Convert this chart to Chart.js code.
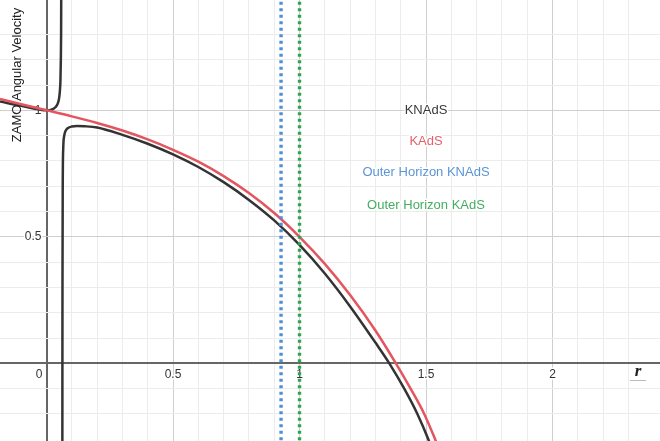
<!DOCTYPE html>
<html>
<head>
<meta charset="utf-8">
<script src="https://cdn.jsdelivr.net/npm/chart.js@4.4.1/dist/chart.umd.min.js"></script>
<style>
  html, body { margin: 0; padding: 0; background: #fff; }
  #wrap { width: 660px; height: 441px; position: relative; }
</style>
</head>
<body>
<div id="wrap"><canvas id="chart"></canvas></div>
<script>
// ZAMO angular velocity vs r, KNAdS and KAdS, with the two outer horizons.
// Values.

var knadsLeftR = [-0.184, -0.1, 0, 0.02, 0.035, 0.045, 0.05, 0.053, 0.055, 0.0565, 0.0575, 0.058];
var knadsLeftW = [1.035, 1.018, 1.0, 1.003, 1.012, 1.028, 1.05, 1.08, 1.12, 1.2, 1.3, 1.44];

var knadsRightR = [0.0625, 0.063, 0.064, 0.066, 0.07, 0.075, 0.085, 0.1, 0.12, 0.15, 0.2, 0.3, 0.4, 0.5,
  0.6, 0.7, 0.8, 0.9, 1.0, 1.1, 1.2, 1.3, 1.355, 1.414, 1.466, 1.509, 1.52];
var knadsRightW = [-0.31, 0.3, 0.7, 0.85, 0.9, 0.918, 0.93, 0.936, 0.938, 0.937, 0.932, 0.903, 0.868, 0.826,
  0.776, 0.716, 0.646, 0.565, 0.468, 0.355, 0.225, 0.082, 0, -0.1, -0.2, -0.3, -0.33];

var kadsR = [-0.184, -0.1, 0, 0.1, 0.2, 0.3, 0.4, 0.5, 0.6, 0.7, 0.8, 0.9, 1.0, 1.1, 1.2, 1.3,
  1.381, 1.439, 1.493, 1.536, 1.55];
var kadsW = [1.045, 1.024, 1.0, 0.976, 0.95, 0.92, 0.885, 0.844, 0.797, 0.74, 0.673, 0.594, 0.5, 0.393,
  0.27, 0.13, 0, -0.1, -0.2, -0.3, -0.335];

var horizonKNAdS = 0.927;
var horizonKAdS = 1.0;

var xTickLabels = [0, 0.5, 1, 1.5, 2];
var yTickLabels = [0.5, 1];

var seriesNames = ["KNAdS", "KAdS", "Outer Horizon KNAdS", "Outer Horizon KAdS"];
var seriesLabelY = [1.0, 0.876, 0.753, 0.626];
var seriesLabelX = 1.5;

var xMin = -0.184, xMax = 2.425;
var yMin = -0.307, yMax = 1.436;

var BLACK = "#333333";
var RED = "#e3555f";
var BLUE = "#4f8fd6";
var GREEN = "#2fa552";
var LABEL_COLORS = ["#3a3a3a", "#e5616b", "#5b95d6", "#44ad62"];
var FONT = "'Liberation Sans', Arial, sans-serif";

function pts(xs, ys) {
  return xs.map(function (x, i) { return { x: x, y: ys[i] }; });
}

function gridColor(ctx) {
  var v = ctx.tick.value;
  if (Math.abs(v) < 1e-9) return "#666666";
  var t = v * 10;
  if (Math.abs(t - Math.round(t)) > 1e-6) return "rgba(0,0,0,0)";
  if (Math.round(t) % 5 === 0) return "#cfcfcf";
  return "#ececec";
}
function gridWidth(ctx) {
  return Math.abs(ctx.tick.value) < 1e-9 ? 2 : 1;
}

function halo(c, text, x, y) {
  c.save();
  c.lineWidth = 3;
  c.strokeStyle = "#ffffff";
  c.lineJoin = "round";
  c.strokeText(text, x, y);
  c.restore();
  c.fillText(text, x, y);
}

var labelsPlugin = {
  id: "desmosLabels",
  beforeDatasetsDraw: function (chart) {
    var c = chart.ctx;
    var xs = chart.scales.x, ys = chart.scales.y;
    var x0 = xs.getPixelForValue(0), y0 = ys.getPixelForValue(0);
    c.save();
    c.font = "12px " + FONT;
    c.fillStyle = "#333";
    c.textBaseline = "top";
    xTickLabels.forEach(function (v) {
      var px = xs.getPixelForValue(v);
      if (v === 0) {
        c.textAlign = "right";
        halo(c, "0", x0 - 4, y0 + 5);
      } else {
        c.textAlign = "center";
        halo(c, String(v), px, y0 + 5);
      }
    });
    c.textAlign = "right";
    c.textBaseline = "middle";
    yTickLabels.forEach(function (v) {
      halo(c, String(v), x0 - 5, ys.getPixelForValue(v));
    });
    c.restore();
  },
  afterDatasetsDraw: function (chart) {
    var c = chart.ctx;
    var xs = chart.scales.x, ys = chart.scales.y;
    c.save();
    c.font = "13px " + FONT;
    c.textAlign = "center";
    c.textBaseline = "middle";
    seriesNames.forEach(function (name, i) {
      c.fillStyle = LABEL_COLORS[i];
      halo(c, name, xs.getPixelForValue(seriesLabelX), ys.getPixelForValue(seriesLabelY[i]));
    });

    // axis titles
    c.fillStyle = "#222";
    c.save();
    c.translate(17, 75);
    c.rotate(-Math.PI / 2);
    c.font = "13px " + FONT;
    c.fillText("ZAMO Angular Velocity", 0, 0);
    c.restore();

    c.font = "italic bold 17px 'Liberation Serif', serif";
    c.fillStyle = "#222";
    c.fillText("r", 638, 372);
    c.strokeStyle = "#bbb";
    c.lineWidth = 1;
    c.beginPath();
    c.moveTo(630, 380.5);
    c.lineTo(646, 380.5);
    c.stroke();
    c.restore();
  },
};

var lineOpts = {
  showLine: true,
  pointRadius: 0,
  borderWidth: 2.5,
  fill: false,
  cubicInterpolationMode: "monotone",
};

new Chart(document.getElementById("chart"), {
  type: "scatter",
  data: {
    datasets: [
      Object.assign({ label: "Outer Horizon KNAdS", data: pts([horizonKNAdS, horizonKNAdS], [yMin - 0.1, yMax + 0.1]),
        borderColor: BLUE, borderDash: [3, 3.5], borderWidth: 3.4, order: 0 }, { showLine: true, pointRadius: 0 }),
      Object.assign({ label: "Outer Horizon KAdS", data: pts([horizonKAdS, horizonKAdS], [yMin - 0.1, yMax + 0.1]),
        borderColor: GREEN, borderDash: [3, 3.5], borderWidth: 3.4, order: 0 }, { showLine: true, pointRadius: 0 }),
      Object.assign({ label: "KAdS", data: pts(kadsR, kadsW), borderColor: RED, order: 1 }, lineOpts),
      Object.assign({ label: "KNAdS", data: pts(knadsLeftR, knadsLeftW), borderColor: BLACK, order: 2 }, lineOpts),
      Object.assign({ label: "KNAdS ", data: pts(knadsRightR, knadsRightW), borderColor: BLACK, order: 2 }, lineOpts),
    ],
  },
  options: {
    responsive: true,
    maintainAspectRatio: false,
    animation: false,
    layout: { padding: 0 },
    plugins: { legend: { display: false }, tooltip: { enabled: false } },
    scales: {
      x: {
        type: "linear",
        min: xMin,
        max: xMax,
        ticks: { display: false, stepSize: 0.1, autoSkip: false },
        grid: { color: gridColor, lineWidth: gridWidth, drawTicks: false },
        border: { display: false },
        afterFit: function (s) { s.height = 0; },
      },
      y: {
        type: "linear",
        min: yMin,
        max: yMax,
        ticks: { display: false, stepSize: 0.1, autoSkip: false },
        grid: { color: gridColor, lineWidth: gridWidth, drawTicks: false },
        border: { display: false },
        afterFit: function (s) { s.width = 0; },
      },
    },
  },
  plugins: [labelsPlugin],
});
</script>
</body>
</html>
